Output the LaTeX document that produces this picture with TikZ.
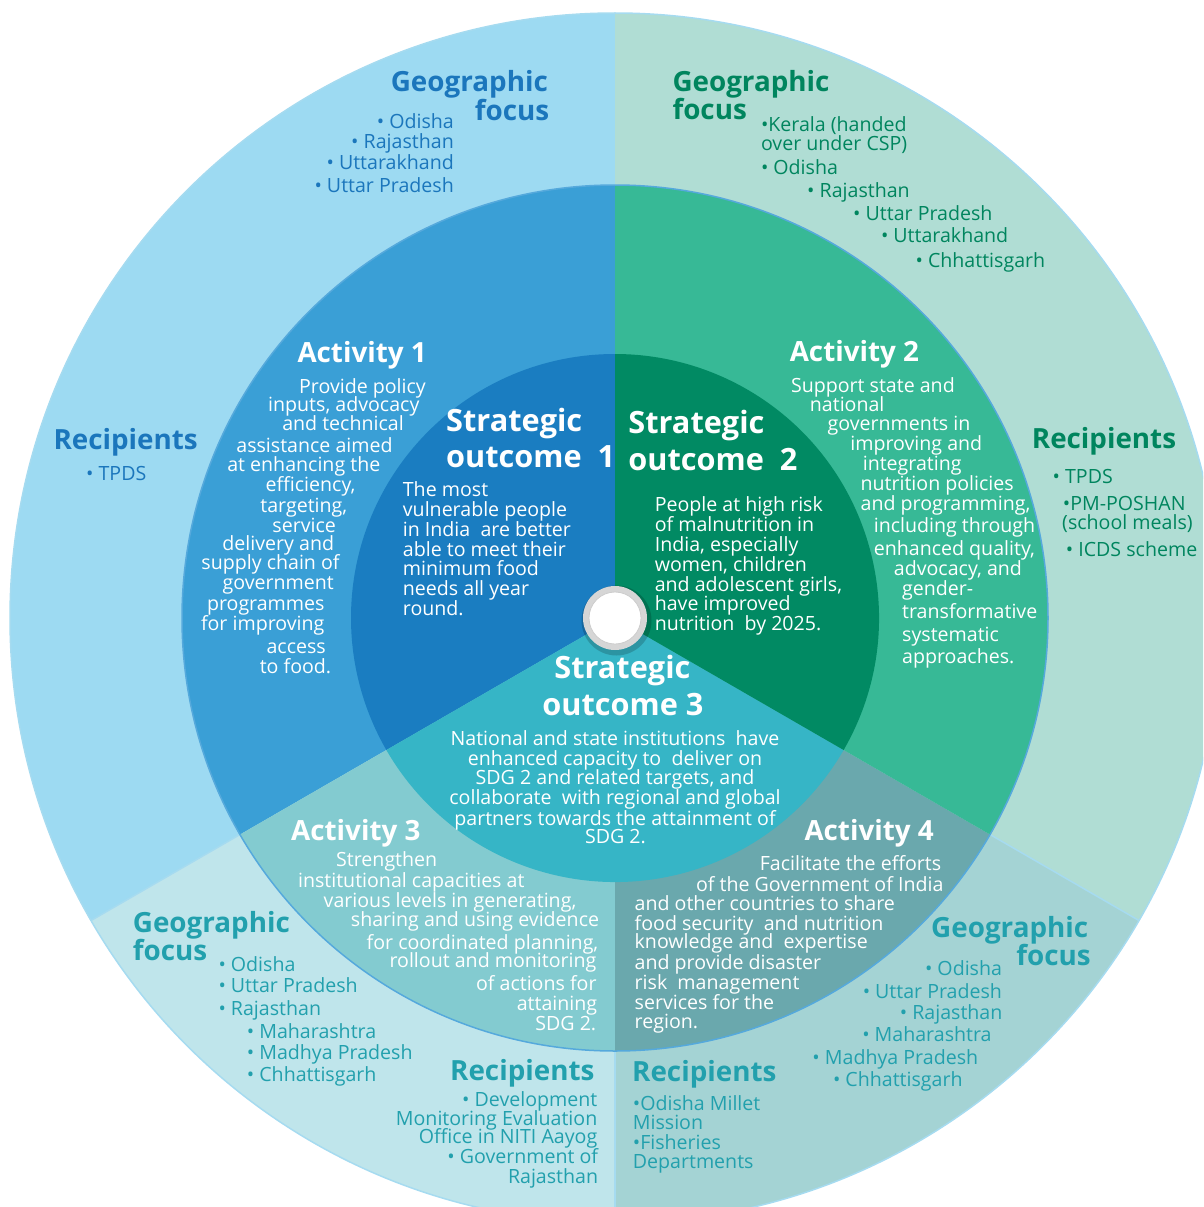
\documentclass[tikz,border=0pt]{standalone}
\usepackage{fontspec}
\setmainfont{Open Sans}
\definecolor{otl}{HTML}{9DDAF2}
\definecolor{otr}{HTML}{B0DDD4}
\definecolor{obl}{HTML}{BFE5EB}
\definecolor{obr}{HTML}{A4D3D4}
\definecolor{ma1}{HTML}{3A9FD6}
\definecolor{ma2}{HTML}{37B996}
\definecolor{ma3}{HTML}{83CBD0}
\definecolor{ma4}{HTML}{6AA8AD}
\definecolor{so1}{HTML}{1A7DC1}
\definecolor{so2}{HTML}{018A63}
\definecolor{so3}{HTML}{36B5C6}
\definecolor{tblue}{HTML}{1B76BC}
\definecolor{tgreen}{HTML}{00855E}
\definecolor{tteal}{HTML}{22A0AD}
\definecolor{edgeblue}{HTML}{A6DBF0}
\definecolor{midedge}{HTML}{55A9DC}
\definecolor{ringgray}{HTML}{D6D6D6}
\newcommand\mysector[4]{\fill[#1] (C) -- ++(#2:#4) arc[start angle=#2, end angle=#3, radius=#4] -- cycle;}
\newcommand\txtlines[3]{%
  \foreach \an/\xx/\yy/\tx [count=\i] in {#3} {\node[#1, anchor=\an] (#2-\i) at (\xx,-\yy) {\tx};}}
\tikzset{
  body/.style={font=\fontsize{19.6}{22}\selectfont, inner sep=0pt},
  head/.style={font=\bfseries\fontsize{27.8}{30}\selectfont, inner sep=0pt},
  sohead/.style={font=\bfseries\fontsize{30.7}{32}\selectfont, inner sep=0pt},
  sepline/.style={draw=edgeblue, line width=1.5pt},
}
\begin{document}
\begin{tikzpicture}[x=1pt,y=1pt]
\useasboundingbox (0,0) rectangle (1203,-1207);
\clip (0,0) rectangle (1203,-1207);
\coordinate (C) at (615,-618);
% outer ring
\mysector{otl}{90}{210}{605}
\mysector{obl}{210}{270}{605}
\mysector{obr}{270}{330}{605}
\mysector{otr}{-30}{90}{605}
\draw[edgeblue, line width=1.5pt] (C) circle[radius=605];
% middle ring
\mysector{ma1}{90}{210}{433}
\mysector{ma3}{210}{270}{433}
\mysector{ma4}{270}{330}{433}
\mysector{ma2}{-30}{90}{433}
\draw[sepline] (C) ++(210:433) -- ++(210:172);
\draw[sepline] (C) ++(270:433) -- ++(270:172);
\draw[sepline] (C) ++(330:433) -- ++(330:172);
\draw[midedge, line width=1.5pt] (C) circle[radius=433];
% inner circle
\mysector{so1}{90}{210}{264}
\mysector{so3}{210}{330}{264}
\mysector{so2}{-30}{90}{264}
% centre
\fill[black, opacity=0.18] ([shift={(1.5,-2.5)}]C) circle[radius=35];
\fill[ringgray] (C) circle[radius=32];
\fill[white] (C) circle[radius=26];
\draw[black!20, line width=0.8pt] (C) circle[radius=26];

% ---- top-left outer
\txtlines{head, text=tblue}{tlh}{base east/548/92/Geographic, base east/549.5/120/focus}
\txtlines{body, text=tblue}{tlg}{base east/454/128/{• Odisha}, base east/454/148/{• Rajasthan}, base east/454/169/{• Uttarakhand}, base east/454/192/{• Uttar Pradesh}}
% ---- top-right outer
\txtlines{head, text=tgreen}{trh}{base west/672.3/91/Geographic, base west/672.3/119/focus}
\txtlines{body, text=tgreen}{trg}{base west/760.8/131/{•Kerala (handed}, base west/760.8/150/{over under CSP)}, base west/760.8/174/{• Odisha}, base west/807/197/{• Rajasthan}, base west/853/220/{• Uttar Pradesh}, base west/880.8/242/{• Uttarakhand}, base west/915.4/267/{• Chhattisgarh}}
% ---- recipients left / right
\txtlines{head, text=tblue}{lrh}{base west/53.3/449/Recipients}
\txtlines{body, text=tblue}{lr}{base west/86/480/{• TPDS}}
\txtlines{head, text=tgreen}{rrh}{base west/1031.7/448.3/Recipients}
\txtlines{body, text=tgreen}{rr}{base west/1052.5/483.3/{• TPDS}, base west/1062.7/510/{•PM-POSHAN}, base west/1062/529.3/{(school meals)}, base west/1065.7/556.7/{• ICDS scheme}}
% ---- Activity 1
\txtlines{head, text=white}{a1h}{base west/297.3/362/{Activity 1}}
\txtlines{body, text=white}{a1}{base/362.5/393.3/{Provide policy}, base/343.8/411.7/{inputs, advocacy}, base/343/430.7/{and technical}, base/314.5/452.3/{assistance aimed}, base/303.8/471.7/{at enhancing the}, base/310.5/491.7/{efficiency,}, base/303.8/512.7/{targeting,}, base/304.2/532.7/{service}, base/278.3/550.7/{delivery and}, base/270.5/569.3/{supply chain of}, base/278.2/589/{government}, base/265.8/610/{programmes}, base/262.7/630/{for improving}, base/296.2/653.3/{access}, base/295.5/673.3/{to food.}}
% ---- Activity 2
\txtlines{head, text=white}{a2h}{base west/789.6/361.7/{Activity 2}}
\txtlines{body, text=white}{a2}{base west/790.8/392.7/{Support state and}, base west/809.7/411.7/{national}, base west/827.5/430.7/{governments in}, base west/850.2/450/{improving and}, base west/862.6/470/{integrating}, base west/860.4/490.7/{nutrition policies}, base west/860.4/510/{and programming,}, base west/873.6/532.7/{including through}, base west/873.6/555/{enhanced quality,}, base west/893.7/575/{advocacy, and}, base west/902/595/{gender-}, base west/902/618.3/{transformative}, base west/902/641.7/{systematic}, base west/902/663.3/{approaches.}}
% ---- Strategic outcome 1
\txtlines{sohead, text=white}{s1h}{base west/446/431/Strategic, base west/446/467.3/{outcome~~1}}
\txtlines{body, text=white}{s1}{base west/402.7/496.7/{The most}, base west/402.7/516.7/{vulnerable people}, base west/402.7/536.7/{in India~~are better}, base west/402.7/556.7/{able to meet their}, base west/402.7/575/{minimum food}, base west/402.7/595/{needs all year}, base west/402.7/615/{round.}}
% ---- Strategic outcome 2
\txtlines{sohead, text=white}{s2h}{base west/628.2/433.3/Strategic, base west/628.2/470/{outcome~~2}}
\txtlines{body, text=white}{s2}{base west/654.6/511.7/{People at high risk}, base west/654.6/531.7/{of malnutrition in}, base west/654.6/551.7/{India, especially}, base west/654.6/571.7/{women, children}, base west/654.6/591.7/{and adolescent girls,}, base west/654.6/610.7/{have improved}, base west/654.6/630/{nutrition~~by 2025.}}
% ---- Strategic outcome 3
\txtlines{sohead, text=white}{s3h}{base/622.4/678.3/Strategic, base/623/715/{outcome 3}}
\txtlines{body, text=white}{s3}{base/615/745.7/{National and state institutions~~have}, base/615/765.7/{enhanced capacity to~~deliver on}, base/615/784.3/{SDG 2 and related targets, and}, base/615/804.3/{collaborate~~with regional and global}, base/615/825/{partners towards the attainment of}, base/615.5/843.3/{SDG 2.}}
% ---- Activity 3
\txtlines{head, text=white}{a3h}{base west/291/840.5/{Activity 3}}
\txtlines{body, text=white}{a3}{base/386.7/866.7/{Strengthen}, base/411.3/887.7/{institutional capacities at}, base/450/907.3/{various levels in generating,}, base/475/926/{sharing and using evidence}, base/482.5/949.3/{for coordinated planning,}, base/493/967.7/{rollout and monitoring}, base/536.3/990.7/{of actions for}, base/557/1010.7/{attaining}, base/565.8/1030/{SDG 2.}}
% ---- Activity 4
\txtlines{head, text=white}{a4h}{base west/804.3/840.5/{Activity 4}}
\txtlines{body, text=white}{a4}{base/850.5/870.7/{Facilitate the efforts}, base/819.7/891/{of the Government of India}, base west/634.5/910.7/{and other countries to share}, base west/634.5/930/{food security~~and nutrition}, base west/634.5/948.3/{knowledge and~~expertise}, base west/634.5/969.3/{and provide disaster}, base west/634.5/989/{risk~~management}, base west/634.5/1009/{services for the}, base west/634.5/1028.3/{region.}}
% ---- bottom-left outer
\txtlines{head, text=tteal}{blh}{base west/132.7/932/Geographic, base west/132.7/960/focus}
\txtlines{body, text=tteal}{blg}{base west/218.3/971.7/{• Odisha}, base west/218.3/992.7/{• Uttar Pradesh}, base west/218.3/1015/{• Rajasthan}, base west/246.7/1038.3/{• Maharashtra}, base west/246.7/1059.3/{• Madhya Pradesh}, base west/246.7/1081.7/{• Chhattisgarh}}
\txtlines{head, text=tteal}{blrh}{base west/450/1080/Recipients}
\txtlines{body, text=tteal}{blr}{base east/597.5/1106/{• Development}, base east/597.5/1125/{Monitoring Evaluation}, base east/597.5/1143.5/{Office in NITI Aayog}, base east/598.3/1163.3/{• Government of}, base east/598.3/1183.3/{Rajasthan}}
% ---- bottom-right outer
\txtlines{head, text=tteal}{brh}{base east/1088.4/937/Geographic, base east/1091/965/focus}
\txtlines{body, text=tteal}{brg}{base east/1002.2/975.7/{• Odisha}, base east/1002.2/998.3/{• Uttar Pradesh}, base east/1002.6/1019/{• Rajasthan}, base/926.9/1041.7/{• Maharashtra}, base/895.3/1064/{• Madhya Pradesh}, base/897.8/1086.7/{• Chhattisgarh}}
\txtlines{head, text=tteal}{brrh}{base west/632/1081/Recipients}
\txtlines{body, text=tteal}{brr}{base west/632.7/1110/{•Odisha Millet}, base west/632.7/1129.3/{Mission}, base west/632.7/1149.3/{•Fisheries}, base west/632.7/1168.3/{Departments}}
\end{tikzpicture}
\end{document}
